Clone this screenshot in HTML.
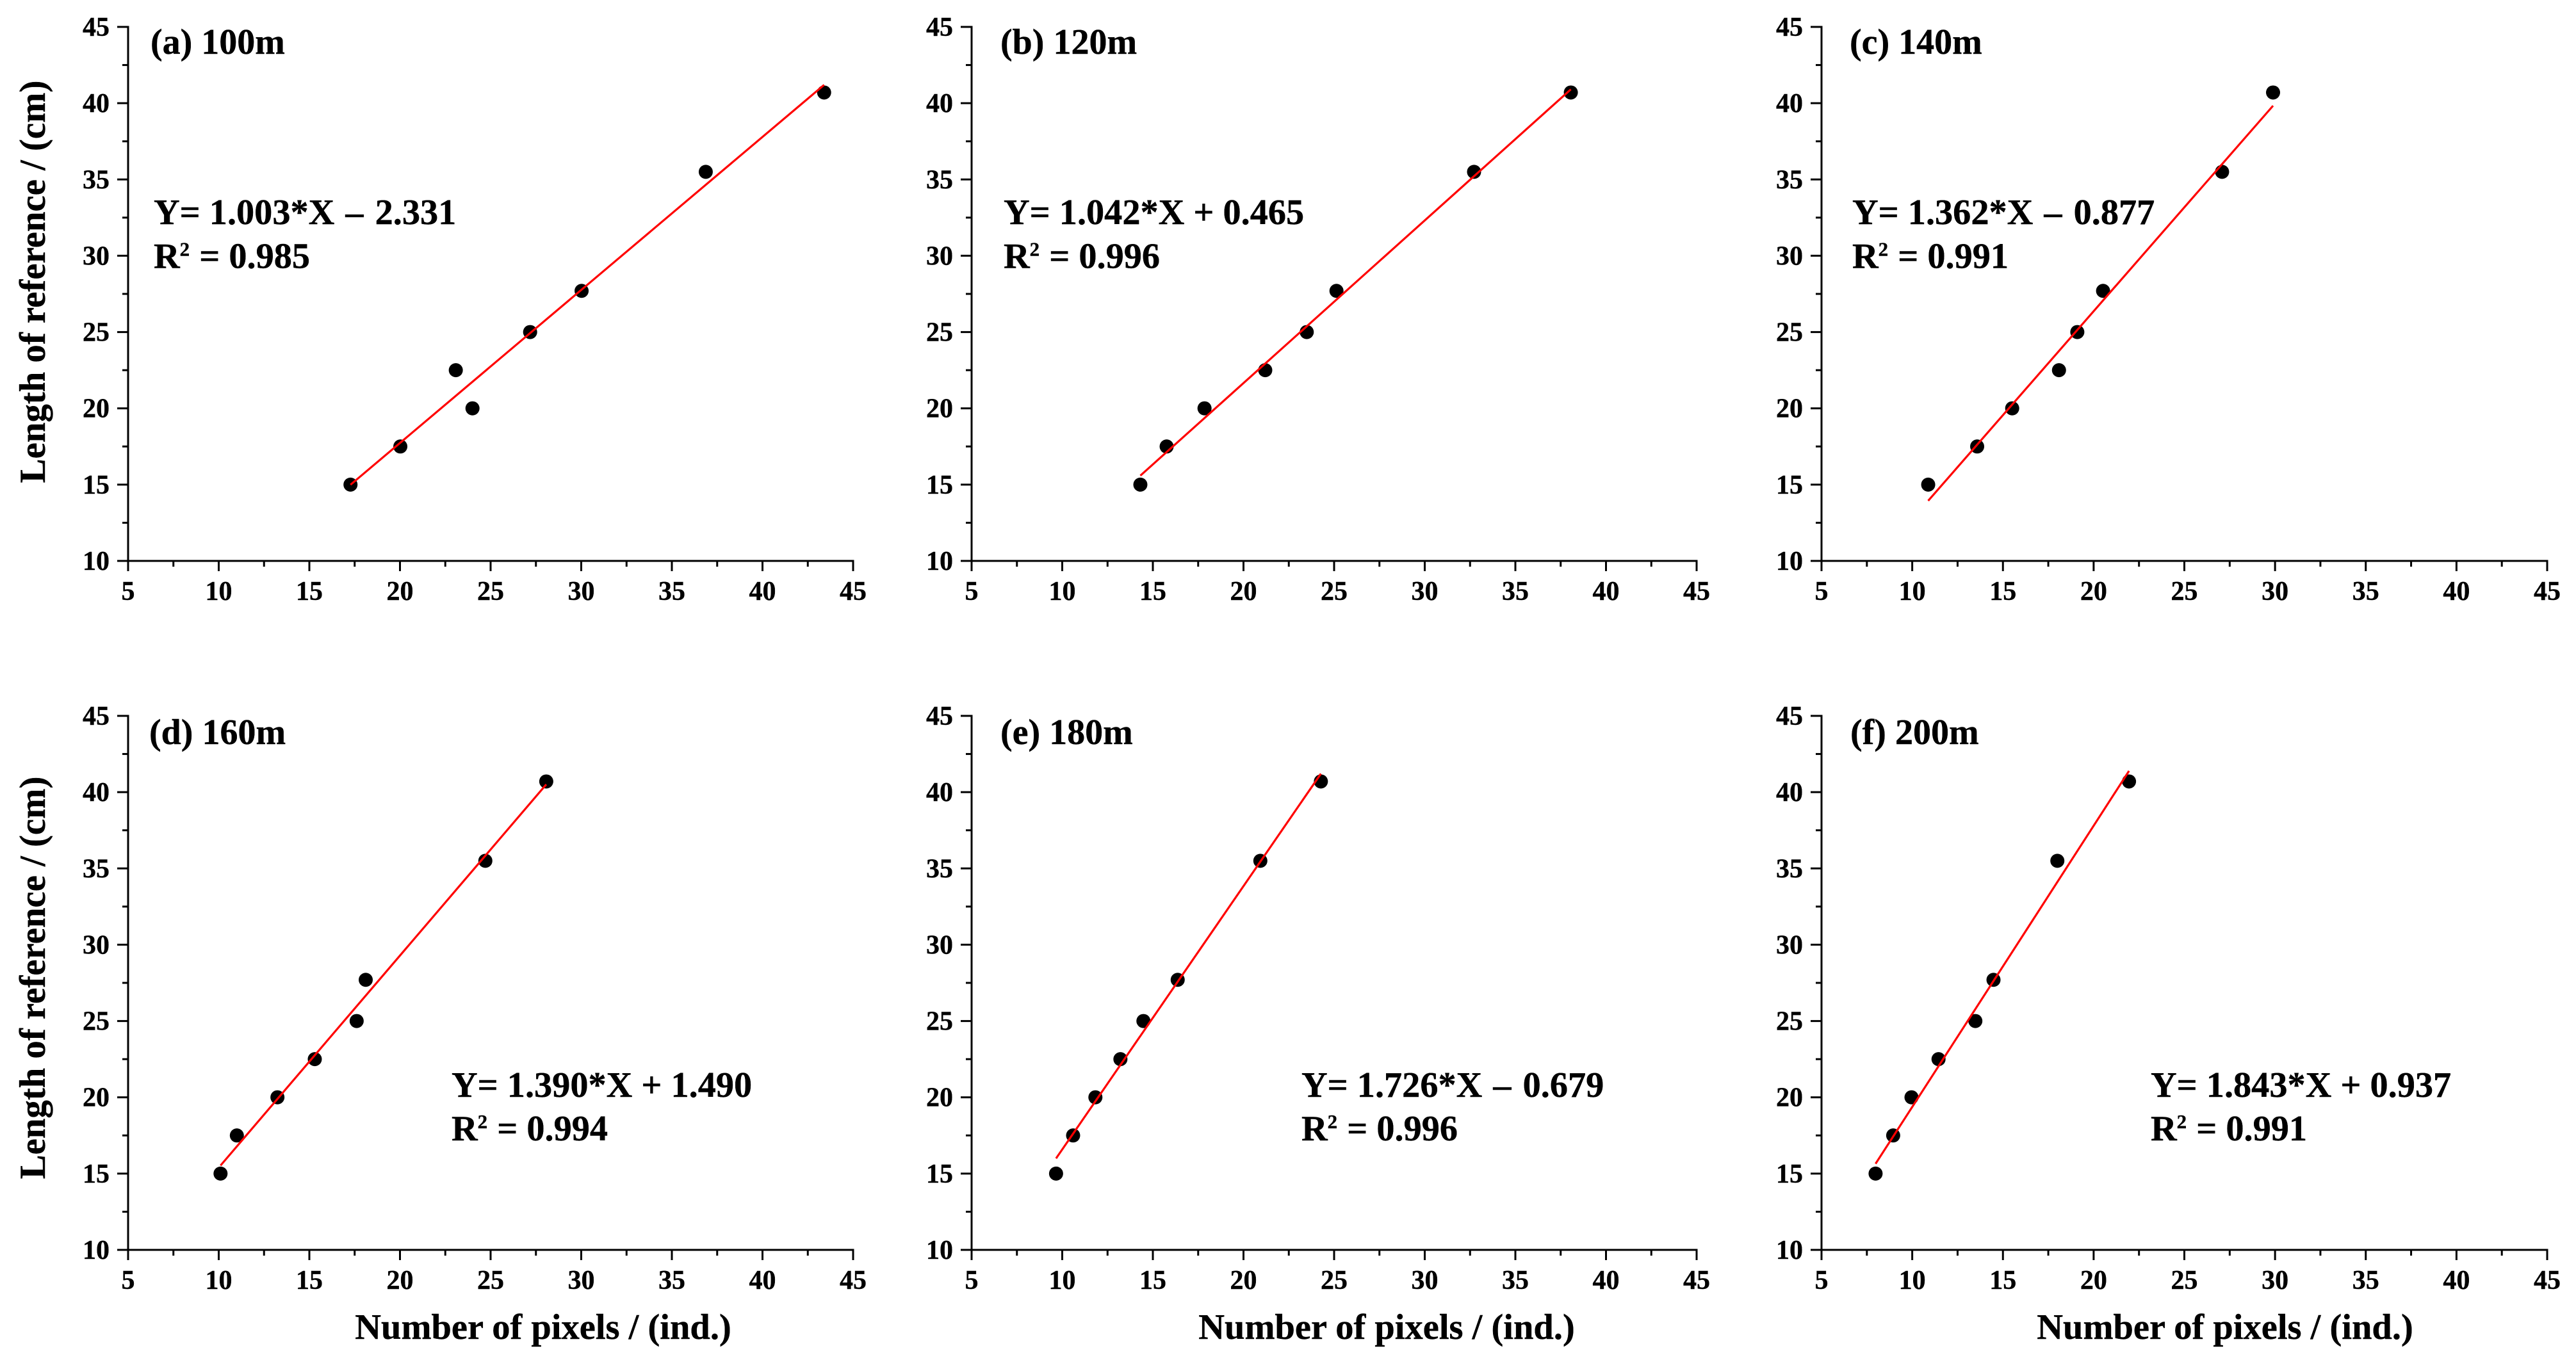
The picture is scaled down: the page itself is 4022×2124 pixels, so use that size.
<!DOCTYPE html>
<html lang="en">
<head>
<meta charset="utf-8">
<title>Length of reference vs number of pixels</title>
<style>
html,body{margin:0;padding:0;background:#fff;width:4022px;height:2124px;overflow:hidden}
svg{display:block}
text{font-family:"Liberation Serif",serif;font-weight:bold;fill:#000;stroke:#000;stroke-width:.4px}
.label{font-size:56px}
.eq{font-size:56.3px}
.ytitle{font-size:56.8px}
.xtitle{font-size:56.5px}
.tick{font-size:42px}
</style>
</head>
<body>
<svg id="chart" xmlns="http://www.w3.org/2000/svg" width="4022" height="2124" viewBox="0 0 4022 2124">
<rect x="0" y="0" width="4022" height="2124" fill="#fff"/>
<g id="panel-0">
<text class="label" x="235" y="84">(a) 100m</text>
<text class="eq" x="240" y="350">Y= 1.003*X <tspan dx="3">–</tspan> <tspan dx="4">2.331</tspan></text>
<text class="eq" x="240" y="418.5">R<tspan font-size="31" dy="-19">2</tspan><tspan dy="19" dx="1"> = 0.985</tspan></text>
<text class="ytitle" transform="translate(70,440) rotate(-90)" text-anchor="middle">Length of reference / (cm)</text>
</g>
<g id="panel-1">
<text class="label" x="1562" y="84">(b) 120m</text>
<text class="eq" x="1567" y="350">Y= 1.042*X + 0.465</text>
<text class="eq" x="1567" y="418.5">R<tspan font-size="31" dy="-19">2</tspan><tspan dy="19" dx="1"> = 0.996</tspan></text>
</g>
<g id="panel-2">
<text class="label" x="2888" y="84">(c) 140m</text>
<text class="eq" x="2892" y="350">Y= 1.362*X <tspan dx="3">–</tspan> <tspan dx="4">0.877</tspan></text>
<text class="eq" x="2892" y="418.5">R<tspan font-size="31" dy="-19">2</tspan><tspan dy="19" dx="1"> = 0.991</tspan></text>
</g>
<g id="panel-3">
<text class="label" x="233" y="1162">(d) 160m</text>
<text class="eq" x="705" y="1713">Y= 1.390*X + 1.490</text>
<text class="eq" x="705" y="1781">R<tspan font-size="31" dy="-19">2</tspan><tspan dy="19" dx="1"> = 0.994</tspan></text>
<text class="ytitle" transform="translate(70,1527) rotate(-90)" text-anchor="middle">Length of reference / (cm)</text>
<text class="xtitle" x="848" y="2091" text-anchor="middle">Number of pixels / (ind.)</text>
</g>
<g id="panel-4">
<text class="label" x="1562" y="1162">(e) 180m</text>
<text class="eq" x="2032" y="1713">Y= 1.726*X <tspan dx="3">–</tspan> <tspan dx="4">0.679</tspan></text>
<text class="eq" x="2032" y="1781">R<tspan font-size="31" dy="-19">2</tspan><tspan dy="19" dx="1"> = 0.996</tspan></text>
<text class="xtitle" x="2165" y="2091" text-anchor="middle">Number of pixels / (ind.)</text>
</g>
<g id="panel-5">
<text class="label" x="2889" y="1162">(f) 200m</text>
<text class="eq" x="3358" y="1713">Y= 1.843*X + 0.937</text>
<text class="eq" x="3358" y="1781">R<tspan font-size="31" dy="-19">2</tspan><tspan dy="19" dx="1"> = 0.991</tspan></text>
<text class="xtitle" x="3474" y="2091" text-anchor="middle">Number of pixels / (ind.)</text>
</g>
</svg>
<script>
// Chart data
const xTickLabels = [5, 10, 15, 20, 25, 30, 35, 40, 45];
const yTickLabels = [10, 15, 20, 25, 30, 35, 40, 45];
const referenceLengths = [15, 17.5, 20, 22.5, 25, 27.7, 35.5, 40.7];
const pixelsA = [17.27, 20.02, 24.0, 23.08, 27.18, 30.02, 36.87, 43.4];
const pixelsB = [14.31, 15.76, 17.85, 21.2, 23.49, 25.13, 32.72, 38.06];
const pixelsC = [10.88, 13.58, 15.51, 18.09, 19.1, 20.52, 27.08, 29.89];
const pixelsD = [10.1, 11.0, 13.24, 15.3, 17.61, 18.11, 24.71, 28.07];
const pixelsE = [9.66, 10.6, 11.83, 13.21, 14.48, 16.37, 20.93, 24.27];
const pixelsF = [7.98, 8.95, 9.96, 11.45, 13.48, 14.48, 18.0, 21.95];
// Fit lines as drawn in the picture (panel b's drawn line differs slightly from its printed equation)
const fitSlopes = [1.003, 1.066, 1.362, 1.390, 1.726, 1.843];
const fitIntercepts = [-2.331, 0.335, -0.877, 1.490, -0.679, 0.937];

// Layout
const NS = 'http://www.w3.org/2000/svg';
const allPixels = [pixelsA, pixelsB, pixelsC, pixelsD, pixelsE, pixelsF];
const panelLetters = ['a', 'b', 'c', 'd', 'e', 'f'];
const frames = [
  { l: 200, r: 1332, t: 42, b: 876 },
  { l: 1517, r: 2649, t: 42, b: 876 },
  { l: 2844, r: 3977, t: 42, b: 876 },
  { l: 200, r: 1332, t: 1118, b: 1952 },
  { l: 1517, r: 2649, t: 1118, b: 1952 },
  { l: 2844, r: 3977, t: 1118, b: 1952 }
];
const xMin = 5, xMax = 45, yMin = 10, yMax = 45;

function makeLine(x1, y1, x2, y2, color, width) {
  const el = document.createElementNS(NS, 'line');
  el.setAttribute('x1', x1);
  el.setAttribute('y1', y1);
  el.setAttribute('x2', x2);
  el.setAttribute('y2', y2);
  el.setAttribute('stroke', color);
  el.setAttribute('stroke-width', width);
  return el;
}
function makeText(str, x, y, anchor) {
  const el = document.createElementNS(NS, 'text');
  el.setAttribute('class', 'tick');
  el.setAttribute('x', x);
  el.setAttribute('y', y);
  el.setAttribute('text-anchor', anchor);
  el.textContent = str;
  return el;
}

frames.forEach(function (f, p) {
  const g = document.getElementById('panel-' + p);
  const letter = panelLetters[p];
  const sx = function (v) { return f.l + (v - xMin) / (xMax - xMin) * (f.r - f.l); };
  const sy = function (v) { return f.b - (v - yMin) / (yMax - yMin) * (f.b - f.t); };

  const xAxis = makeLine(f.l - 17, f.b, f.r + 1.5, f.b, '#000', 3);
  
  
  g.appendChild(xAxis);

  const yAxis = makeLine(f.l, f.t - 1.5, f.l, f.b + 16, '#000', 3);
  
  
  g.appendChild(yAxis);

  xTickLabels.forEach(function (v, i) {
    const x = sx(v);
    if (i > 0) {
      const major = makeLine(x, f.b, x, f.b + 16, '#000', 3);
      
      
      g.appendChild(major);
      const minorX = sx(v - 2.5);
      const minor = makeLine(minorX, f.b, minorX, f.b + 9, '#000', 3);
      
      
      g.appendChild(minor);
    }
    const label = makeText(String(v), x, f.b + 61, 'middle');
    
    
    g.appendChild(label);
  });

  yTickLabels.forEach(function (v, i) {
    const y = sy(v);
    if (i > 0) {
      const major = makeLine(f.l - 17, y, f.l, y, '#000', 3);
      
      
      g.appendChild(major);
      const minorY = sy(v - 2.5);
      const minor = makeLine(f.l - 9, minorY, f.l, minorY, '#000', 3);
      
      
      g.appendChild(minor);
    }
    const label = makeText(String(v), f.l - 29, y + 14, 'end');
    
    
    g.appendChild(label);
  });

  const pixels = allPixels[p];
  referenceLengths.forEach(function (len, i) {
    const dot = document.createElementNS(NS, 'circle');
    dot.setAttribute('cx', sx(pixels[i]));
    dot.setAttribute('cy', sy(len));
    dot.setAttribute('r', 11);
    dot.setAttribute('fill', '#000');
    
    
    g.appendChild(dot);
  });

  const lo = Math.min.apply(null, pixels);
  const hi = Math.max.apply(null, pixels);
  const fit = makeLine(sx(lo), sy(fitSlopes[p] * lo + fitIntercepts[p]), sx(hi), sy(fitSlopes[p] * hi + fitIntercepts[p]), '#ff0000', 3.2);
  
  
  g.appendChild(fit);
});
</script>
</body>
</html>
